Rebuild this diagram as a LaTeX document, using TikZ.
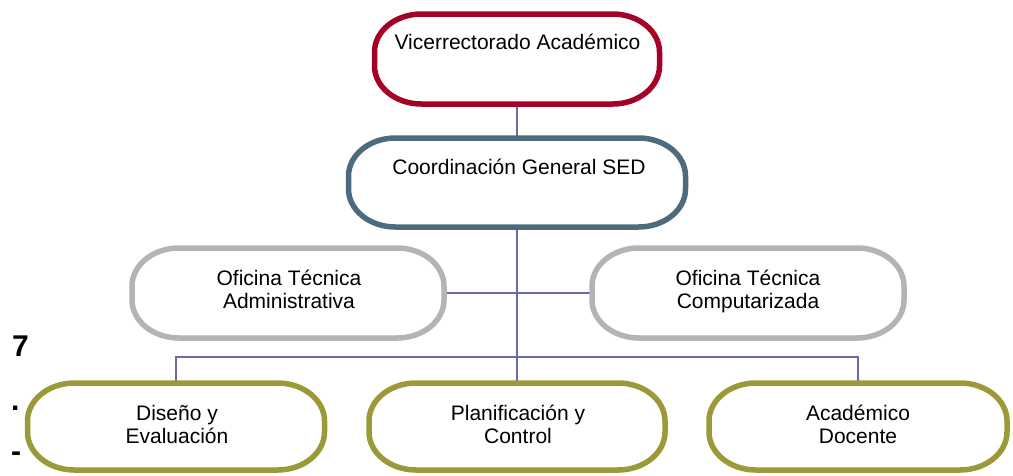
\documentclass[tikz,border=0pt]{standalone}
\usepackage{fontspec}
\setmainfont{Liberation Sans}
\usetikzlibrary{calc}
\definecolor{cRed}{HTML}{A50026}
\definecolor{cBlue}{HTML}{4E6B7E}
\definecolor{cGray}{HTML}{B4B4B4}
\definecolor{cOlive}{HTML}{9C9A38}
\definecolor{cLink}{HTML}{6A6AA6}
\newcommand\pilloutline[2]{%
  \draw[#2] ($(#1.north west)+(47,0)$) -- ($(#1.north east)+(-47,0)$)
    arc[start angle=90,end angle=0,x radius=47,y radius=38]
    -- ($(#1.south east)+(0,38)$)
    arc[start angle=0,end angle=-90,x radius=47,y radius=38]
    -- ($(#1.south west)+(47,0)$)
    arc[start angle=270,end angle=180,x radius=47,y radius=38]
    -- ($(#1.north west)+(0,-38)$)
    arc[start angle=180,end angle=90,x radius=47,y radius=38]
    -- cycle;}
\tikzset{
  box/.style={rectangle, draw=none, inner sep=0pt, outer sep=0pt},
  outline/.style={line width=5.5pt},
  redline/.style={outline, draw=cRed},
  blueline/.style={outline, draw=cBlue},
  grayline/.style={outline, draw=cGray},
  oliveline/.style={outline, draw=cOlive},
  link/.style={draw=cLink, line width=1.8pt},
  lbl/.style={anchor=base, inner sep=0pt, font=\fontsize{21}{23}\selectfont},
  side/.style={anchor=base west, inner sep=0pt, font=\bfseries\fontsize{30}{32}\selectfont},
}
\begin{document}
\begin{tikzpicture}[x=1pt,y=1pt]
\useasboundingbox (0,0) rectangle (1013,-475);
% boxes (geometry)
\node[box, minimum width=285pt, minimum height=90pt] (vr) at (517,-59) {};
\node[box, minimum width=337pt, minimum height=89pt] (cg) at (517,-182.5) {};
\node[box, minimum width=312pt, minimum height=90pt] (ota) at (288,-293) {};
\node[box, minimum width=312pt, minimum height=90pt] (otc) at (748,-293) {};
\node[box, minimum width=297pt, minimum height=87pt] (de) at (176,-426.5) {};
\node[box, minimum width=296pt, minimum height=87pt] (pc) at (517,-426.5) {};
\node[box, minimum width=298pt, minimum height=87pt] (ad) at (858,-426.5) {};
% connectors
\draw[link] (vr.south) -- (cg.north);
\draw[link] (cg.south) -- (pc.north);
\draw[link] (ota.east) -- (otc.west);
\draw[link] (de.north) -- ++(0,26) -| (ad.north);
% outlines
\pilloutline{vr}{redline}
\pilloutline{cg}{blueline}
\pilloutline{ota}{grayline}
\pilloutline{otc}{grayline}
\pilloutline{de}{oliveline}
\pilloutline{pc}{oliveline}
\pilloutline{ad}{oliveline}
% texts
\node[lbl] (vrt) at (517.5,-49) {Vicerrectorado Académico};
\node[lbl] (cgt) at (519,-174) {Coordinación General SED};
\node[lbl] (otat) at (289,-285) {\begin{tabular}[t]{@{}c@{}}Oficina Técnica\\Administrativa\end{tabular}};
\node[lbl] (otct) at (748,-285) {\begin{tabular}[t]{@{}c@{}}Oficina Técnica\\Computarizada\end{tabular}};
\node[lbl] (det) at (177,-420) {\begin{tabular}[t]{@{}c@{}}Diseño y\\Evaluación\end{tabular}};
\node[lbl] (pct) at (518,-420) {\begin{tabular}[t]{@{}c@{}}Planificación y\\Control\end{tabular}};
\node[lbl] (adt) at (858,-420) {\begin{tabular}[t]{@{}c@{}}Académico\\Docente\end{tabular}};
% side marks
\node[side] (s7) at (12,-356) {7};
\node[side] (sdot) at (11,-410) {.};
\node[side] (sdash) at (11,-461) {-};
\end{tikzpicture}
\end{document}
